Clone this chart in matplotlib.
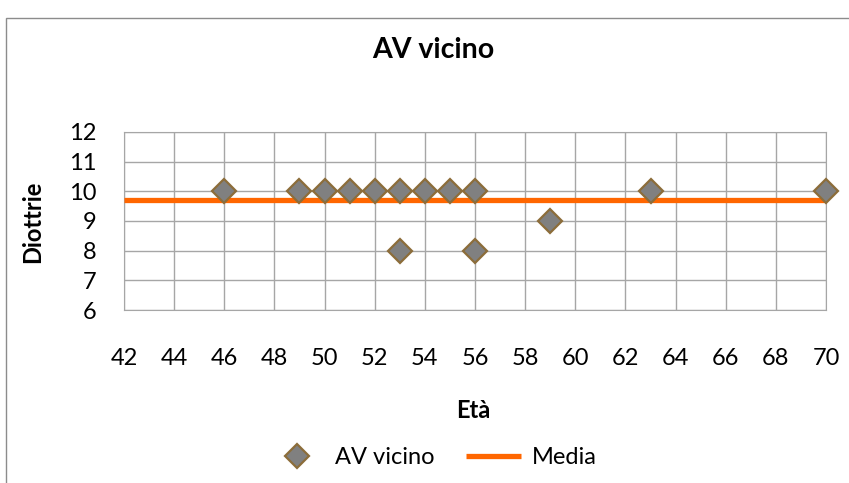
import matplotlib.pyplot as plt
from matplotlib.patches import Rectangle

# age (x) and near visual acuity in diopters (y)
eta = [46, 49, 50, 51, 52, 53, 53, 54, 55, 56, 56, 59, 63, 70]
diottrie = [10, 10, 10, 10, 10, 10, 8, 10, 10, 10, 8, 9, 10, 10]
media = 9.72
x_ticks = list(range(42, 71, 2))
y_ticks = list(range(6, 13))

plt.rcParams["font.family"] = ["Lato", "DejaVu Sans"]

fig = plt.figure(figsize=(8.49, 4.83), dpi=100)
ax = fig.add_axes([0.146, 0.358, 0.827, 0.369])

# chart frame
fig.patches.append(Rectangle((6 / 849, -0.1), 1.0, 1 - 18 / 483 + 0.1,
                             transform=fig.transFigure, fill=False,
                             edgecolor="#8c8c8c", linewidth=1.0))

ax.set_xlim(42, 70)
ax.set_ylim(6, 12)
ax.set_xticks(x_ticks)
ax.set_yticks(y_ticks)
ax.grid(True, color="#a6a6a6", linewidth=1.0)
ax.set_axisbelow(True)
for s in ax.spines.values():
    s.set_color("#a6a6a6")
ax.tick_params(length=0, labelsize=17)
ax.tick_params(axis="x", pad=27)
ax.tick_params(axis="y", pad=20)

ax.plot([42, 70], [media, media], color="#ff6600", linewidth=3.8,
        label="Media", zorder=3, solid_capstyle="butt")
ax.plot(eta, diottrie, linestyle="none", marker="D", markersize=12.5,
        markerfacecolor="#808080", markeredgecolor="#8c6d3a",
        markeredgewidth=1.6, label="AV vicino", zorder=4, clip_on=False)

fig.text(0.51, 0.896, "AV vicino", ha="center", va="center",
         fontsize=20.5, fontweight="bold")
fig.text(0.038, 0.54, "Diottrie", ha="center", va="center",
         rotation=90, fontsize=17, fontweight="bold")
fig.text(0.558, 0.151, "Età", ha="center", va="center",
         fontsize=17, fontweight="bold")

h, l = ax.get_legend_handles_labels()
fig.legend(h[::-1], l[::-1], loc="center", bbox_to_anchor=(0.51, 0.052),
           ncol=2, frameon=False, fontsize=17, handlelength=2.35,
           columnspacing=1.3, handletextpad=0.45)

fig.savefig("out.png", dpi=100)
plt.close(fig)
